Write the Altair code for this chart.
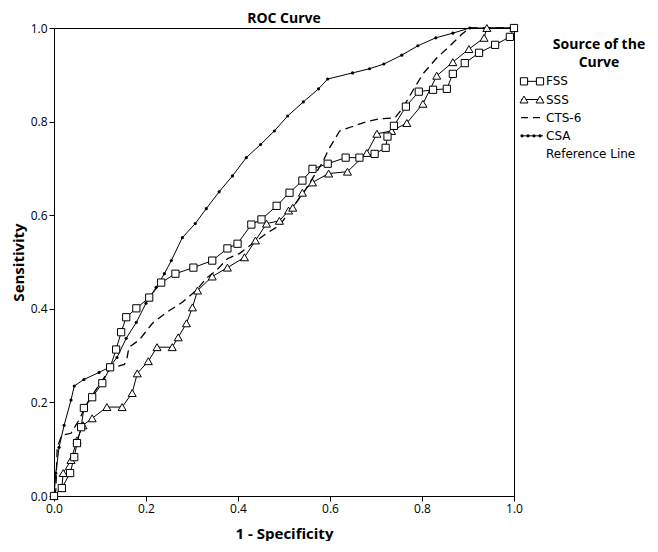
import altair as alt
import pandas as pd

# ---- data ----
fss_x = [0, 0.017, 0.035, 0.044, 0.050, 0.059, 0.065, 0.083, 0.105, 0.122, 0.135, 0.146, 0.157,
         0.179, 0.207, 0.233, 0.264, 0.303, 0.344, 0.377, 0.399, 0.429, 0.451, 0.484, 0.512,
         0.540, 0.562, 0.595, 0.634, 0.664, 0.697, 0.721, 0.725, 0.739, 0.765, 0.793, 0.824,
         0.854, 0.867, 0.893, 0.924, 0.959, 0.991, 1.0]
fss_y = [0, 0.017, 0.049, 0.083, 0.113, 0.147, 0.188, 0.211, 0.241, 0.275, 0.313, 0.350, 0.382,
         0.401, 0.424, 0.456, 0.475, 0.488, 0.503, 0.529, 0.539, 0.580, 0.591, 0.620, 0.648,
         0.674, 0.699, 0.710, 0.723, 0.723, 0.731, 0.744, 0.768, 0.791, 0.832, 0.864, 0.868,
         0.870, 0.902, 0.925, 0.947, 0.964, 0.981, 1.0]

sss_x = [0, 0.017, 0.020, 0.037, 0.050, 0.063, 0.083, 0.115, 0.148, 0.170, 0.181, 0.205, 0.224,
         0.257, 0.270, 0.288, 0.301, 0.312, 0.344, 0.377, 0.414, 0.438, 0.462, 0.490, 0.510,
         0.519, 0.540, 0.562, 0.597, 0.638, 0.680, 0.702, 0.734, 0.767, 0.802, 0.832, 0.867,
         0.902, 0.935, 0.941, 1.0]
sss_y = [0, 0.017, 0.049, 0.077, 0.119, 0.151, 0.166, 0.190, 0.190, 0.220, 0.262, 0.288, 0.318,
         0.318, 0.339, 0.369, 0.403, 0.439, 0.469, 0.488, 0.510, 0.546, 0.582, 0.588, 0.610,
         0.616, 0.648, 0.670, 0.689, 0.693, 0.733, 0.774, 0.780, 0.797, 0.838, 0.898, 0.927,
         0.955, 0.979, 1.0, 1.0]

cts_x = [0, 0.004, 0.007, 0.017, 0.037, 0.054, 0.076, 0.098, 0.124, 0.137, 0.153, 0.159, 0.163,
         0.185, 0.214, 0.244, 0.279, 0.309, 0.331, 0.353, 0.377, 0.403, 0.431, 0.462, 0.490,
         0.519, 0.545, 0.582, 0.599, 0.621, 0.647, 0.680, 0.708, 0.741, 0.758, 0.780, 0.802,
         0.832, 0.861, 0.887, 0.904, 1.0]
cts_y = [0, 0.013, 0.104, 0.130, 0.134, 0.162, 0.205, 0.237, 0.275, 0.277, 0.281, 0.296, 0.318,
         0.333, 0.369, 0.392, 0.414, 0.439, 0.465, 0.482, 0.507, 0.518, 0.539, 0.561, 0.578,
         0.616, 0.652, 0.710, 0.744, 0.780, 0.789, 0.800, 0.806, 0.808, 0.829, 0.866, 0.902,
         0.936, 0.962, 0.987, 1.0, 1.0]

csa_x = [0, 0.004, 0.011, 0.022, 0.037, 0.044, 0.065, 0.098, 0.120, 0.137, 0.157, 0.179, 0.200,
         0.222, 0.240, 0.255, 0.279, 0.307, 0.331, 0.359, 0.388, 0.418, 0.449, 0.479, 0.508,
         0.542, 0.575, 0.595, 0.649, 0.686, 0.717, 0.756, 0.791, 0.830, 0.867, 0.904, 1.0]
csa_y = [0, 0.049, 0.104, 0.151, 0.205, 0.235, 0.249, 0.264, 0.275, 0.296, 0.337, 0.371, 0.412,
         0.446, 0.475, 0.503, 0.552, 0.582, 0.614, 0.650, 0.684, 0.723, 0.751, 0.780, 0.812,
         0.842, 0.870, 0.891, 0.904, 0.913, 0.923, 0.942, 0.962, 0.979, 0.989, 1.0, 1.0]

axis_ticks = [0.0, 0.2, 0.4, 0.6, 0.8, 1.0]
legend_rows = ["Source of the", "Curve", "FSS", "SSS", "CTS-6", "CSA", "Reference Line"]
legend_heading = ["Source of the", "Curve"]

FONT = "Open Sans"
LFONT = "DejaVu Sans"


def frame(name, xs, ys):
    return pd.DataFrame({"series": name, "fpr": xs, "tpr": ys, "idx": list(range(len(xs)))})


df = pd.concat([
    frame("FSS", fss_x, fss_y),
    frame("SSS", sss_x, sss_y),
    frame("CTS-6", cts_x, cts_y),
    frame("CSA", csa_x, csa_y),
], ignore_index=True)

x_enc = alt.X("fpr:Q", scale=alt.Scale(domain=[0, 1], nice=False, zero=False),
              axis=alt.Axis(values=axis_ticks, format=".1f", title="1 - Specificity",
                            titlePadding=12))
y_enc = alt.Y("tpr:Q", scale=alt.Scale(domain=[0, 1], nice=False, zero=False),
              axis=alt.Axis(values=axis_ticks, format=".1f", title="Sensitivity",
                            titlePadding=4))

base = alt.Chart(df).encode(x=x_enc, y=y_enc, order="idx:Q")


def sel(name):
    return base.transform_filter(alt.datum.series == name)


SQ = dict(shape="square", filled=True, fill="white", stroke="black", strokeWidth=1,
          size=52, opacity=1)
TR = dict(shape="triangle-up", filled=True, fill="white", stroke="black", strokeWidth=1,
          size=64, opacity=1)

csa_line = sel("CSA").mark_line(color="black", strokeWidth=1)
csa_pts = sel("CSA").mark_circle(color="black", size=10, opacity=1)
cts_line = sel("CTS-6").mark_line(color="black", strokeWidth=1.3, strokeDash=[8, 5])
sss_line = sel("SSS").mark_line(color="black", strokeWidth=1)
sss_pts = sel("SSS").mark_point(**TR)
fss_line = sel("FSS").mark_line(color="black", strokeWidth=1)
fss_pts = sel("FSS").mark_point(**SQ)

plot = alt.layer(csa_line, csa_pts, cts_line, sss_line, fss_line, sss_pts, fss_pts)

# ---- legend (drawn to the right of the plot, own y scale) ----
leg_df = pd.DataFrame({"label": legend_rows,
                       "heading": [r in legend_heading for r in legend_rows]})
ly = alt.Y("label:N", sort=legend_rows,
           scale=alt.Scale(type="point", padding=0, range=[17, 126]), axis=None)
lbase = alt.Chart(leg_df).encode(y=ly)

head_txt = lbase.transform_filter(alt.datum.heading).mark_text(
    font=FONT, fontSize=14, fontWeight="bold", align="center", color="black"
).encode(x=alt.value(545), text="label:N")
item_txt = lbase.transform_filter(~alt.datum.heading).mark_text(
    font=LFONT, fontSize=12, align="left", color="black"
).encode(x=alt.value(492), text="label:N")


def row(name):
    return lbase.transform_filter(alt.datum.label == name)


sym_layers = []
for nm in ["FSS", "SSS", "CSA"]:
    sym_layers.append(row(nm).mark_rule(color="black", strokeWidth=1).encode(
        x=alt.value(467), x2=alt.value(489)))
sym_layers.append(row("CTS-6").mark_rule(color="black", strokeWidth=1.3, strokeDash=[7, 5]).encode(
    x=alt.value(467), x2=alt.value(490)))
for xv in [470, 486]:
    sym_layers.append(row("FSS").mark_point(**SQ).encode(x=alt.value(xv)))
    sym_layers.append(row("SSS").mark_point(**TR).encode(x=alt.value(xv)))
for xv in [468, 474, 480, 486]:
    sym_layers.append(row("CSA").mark_circle(color="black", size=10, opacity=1)
                      .encode(x=alt.value(xv)))

legend = alt.layer(head_txt, item_txt, *sym_layers)

chart = alt.layer(plot, legend).resolve_scale(y="independent").properties(
    width=460, height=468,
    title=alt.TitleParams("ROC Curve", fontSize=14, fontWeight="bold", font=FONT,
                          anchor="middle", offset=-4, color="black"),
    padding={"left": 3, "right": 0, "top": 4, "bottom": 0},
).configure_view(
    stroke="black", strokeWidth=1
).configure_axis(
    grid=False, domainColor="black", tickColor="black", labelColor="black",
    titleColor="black", labelFont=FONT, titleFont=FONT, labelFontSize=12,
    titleFontSize=15, titleFontWeight="bold", tickSize=5, labelPadding=2,
    labelFlush=False
)

chart.save("out.html", embed_options={"renderer": "svg", "actions": False})
